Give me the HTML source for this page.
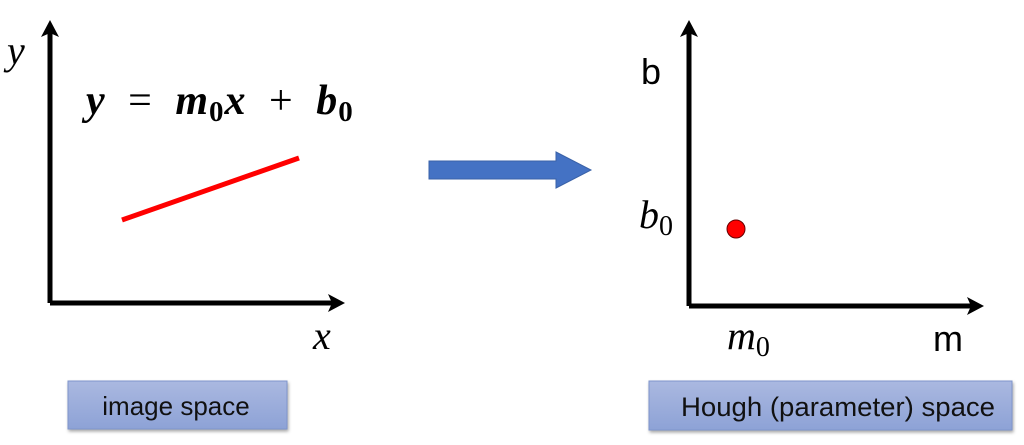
<!DOCTYPE html>
<html><head><meta charset="utf-8"><style>
html,body{margin:0;padding:0;background:#fff;width:1024px;height:445px;overflow:hidden}
</style></head><body>
<svg width="1024" height="445" viewBox="0 0 1024 445" xmlns="http://www.w3.org/2000/svg">
<defs>
<linearGradient id="bx" x1="0" y1="0" x2="0" y2="1">
<stop offset="0" stop-color="#aab8e0"/><stop offset="1" stop-color="#8da2d6"/>
</linearGradient>
<filter id="sh" x="-10%" y="-20%" width="120%" height="150%"><feDropShadow dx="1" dy="2" stdDeviation="1.5" flood-color="#000" flood-opacity="0.35"/></filter>
</defs>
<path d="M50 303 V32 M50 303 H334" stroke="#000" stroke-width="5" fill="none"/>
<polygon points="50,20 59,37 50,33 41,37" fill="#000"/>
<polygon points="345,303 328,294 332,303 328,312" fill="#000"/>
<line x1="122" y1="220" x2="299" y2="158" stroke="#f00" stroke-width="5"/>
<text x="7" y="64" font-family="Liberation Serif, serif" font-style="italic" font-size="40">y</text>
<text x="313" y="349" font-family="Liberation Serif, serif" font-style="italic" font-size="40">x</text>
<text x="86" y="114" font-family="Liberation Serif, serif" font-style="italic" font-weight="bold" font-size="42" word-spacing="11" letter-spacing="1">y <tspan font-style="normal" font-weight="normal">=</tspan> m<tspan font-style="normal" font-size="29" dy="7">0</tspan><tspan dy="-7">x</tspan> <tspan font-style="normal" font-weight="normal">+</tspan> b<tspan font-style="normal" font-size="29" dy="7">0</tspan></text>
<rect x="68" y="381" width="219" height="48" fill="url(#bx)" stroke="#7f95cc" filter="url(#sh)"/>
<text x="176" y="415" text-anchor="middle" font-family="Liberation Sans, sans-serif" font-size="26" fill="#111">image space</text>
<polygon points="429,161 556,161 556,152 591,170 556,188 556,179 429,179" fill="#4472c4" stroke="#3a62a8" stroke-width="1"/>
<path d="M689 306 V32 M689 306 H973" stroke="#000" stroke-width="5" fill="none"/>
<polygon points="689,20 698,37 689,33 680,37" fill="#000"/>
<polygon points="984,306 967,297 971,306 967,315" fill="#000"/>
<circle cx="736" cy="229" r="9" fill="#f00" stroke="#600" stroke-width="1"/>
<text x="641" y="84" font-family="Liberation Sans, sans-serif" font-size="36">b</text>
<text x="639" y="228" font-family="Liberation Serif, serif" font-style="italic" font-size="40">b<tspan font-style="normal" font-size="28" dy="7">0</tspan></text>
<text x="727" y="349" font-family="Liberation Serif, serif" font-style="italic" font-size="40">m<tspan font-style="normal" font-size="28" dy="7">0</tspan></text>
<text x="933" y="351" font-family="Liberation Sans, sans-serif" font-size="36">m</text>
<rect x="649" y="381" width="363" height="49" fill="url(#bx)" stroke="#7f95cc" filter="url(#sh)"/>
<text x="681" y="416" textLength="314" lengthAdjust="spacingAndGlyphs" font-family="Liberation Sans, sans-serif" font-size="27" fill="#111">Hough (parameter) space</text>
</svg>
</body></html>
